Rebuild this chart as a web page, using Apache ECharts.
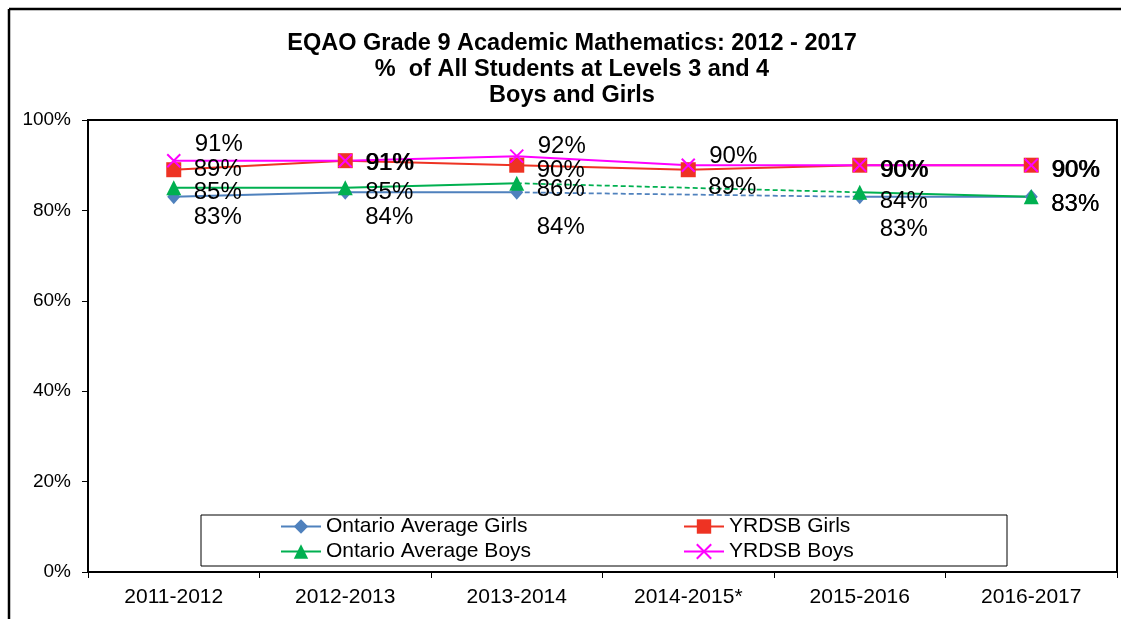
<!DOCTYPE html>
<html><head><meta charset="utf-8">
<script src="https://cdn.jsdelivr.net/npm/echarts@6/dist/echarts.min.js"></script>
<style>html,body{margin:0;padding:0;background:#fff}#c{width:1121px;height:619px}</style>
</head><body><div id="c"></div>
<script>
// ---- data ----
const categories = ['2011-2012', '2012-2013', '2013-2014', '2014-2015*', '2015-2016', '2016-2017'];
const ontarioGirls = [83, 84, 84, null, 83, 83];
const yrdsbGirls   = [89, 91, 90, 89, 90, 90];
const ontarioBoys  = [85, 85, 86, null, 84, 83];
const yrdsbBoys    = [91, 91, 92, 90, 90, 90];
const yTickMin = 0, yTickMax = 100, yTickStep = 20;

// ---- styling (label nudges = manual label placement, vertical px) ----
const seriesStyles = [
  { name: 'Ontario Average Girls', data: ontarioGirls, color: '#4F81BD', symbol: 'diamond', size: [13, 15], nudge: [21, 25, 35, 0, 33, 8] },
  { name: 'YRDSB Girls', data: yrdsbGirls, color: '#EE3323', symbol: 'rect', size: 15, nudge: [0, 3, 5, 18, 5, 5] },
  { name: 'Ontario Average Boys', data: ontarioBoys, color: '#00B050', symbol: 'triangle', size: 15, nudge: [5, 5, 6, 0, 9, 8] },
  { name: 'YRDSB Boys', data: yrdsbBoys, color: '#FF00FF', symbol: 'path://M0,0L10,10M10,0L0,10', size: 13, nudge: [-16, 3, -10, -9, 5, 5] }
];

const FONT = '"Liberation Sans", Arial, sans-serif';

const series = [];
// dashed connectors across missing years
seriesStyles.forEach(s => {
  const n = s.data.length;
  if (!s.data.some(v => v == null)) return;
  const gap = s.data.map((v, i) => {
    if (v == null) return null;
    const prevNull = i > 0 && s.data[i - 1] == null;
    const nextNull = i < n - 1 && s.data[i + 1] == null;
    return (prevNull || nextNull) ? v : null;
  });
  series.push({
    name: s.name + ' (gap)', type: 'line', data: gap, connectNulls: true,
    showSymbol: false, symbol: 'none', silent: true, z: 1,
    lineStyle: { color: s.color, width: 1.75, type: [5, 3] },
    label: { show: false }
  });
});
seriesStyles.forEach(s => {
  const half = (Array.isArray(s.size) ? s.size[0] : s.size) / 2;
  series.push({
    name: s.name, type: 'line', z: 3,
    data: s.data.map((v, i) => v == null ? null : { value: v, label: { offset: [0, s.nudge[i]] } }),
    connectNulls: false,
    symbol: s.symbol, symbolSize: s.size, showAllSymbol: true,
    lineStyle: { color: s.color, width: 2 },
    itemStyle: { color: s.color, borderColor: s.color, borderWidth: s.symbol.startsWith('path') ? 2 : 0 },
    label: {
      show: true, position: 'right', distance: 20 - half,
      formatter: p => p.value + '%',
      color: '#000', fontFamily: FONT, fontSize: 24
    },
    emphasis: { disabled: true }
  });
});

const legendPos = [
  { name: 'Ontario Average Girls', left: 280, top: 516 },
  { name: 'YRDSB Girls', left: 683, top: 516 },
  { name: 'Ontario Average Boys', left: 280, top: 541 },
  { name: 'YRDSB Boys', left: 683, top: 541 }
];

const chart = echarts.init(document.getElementById('c'), null, { renderer: 'canvas' });
chart.setOption({
  backgroundColor: '#fff',
  animation: false,
  title: {
    text: 'EQAO Grade 9 Academic Mathematics: 2012 - 2017\n%  of All Students at Levels 3 and 4\nBoys and Girls',
    left: 567, top: 26, textAlign: 'center',
    textStyle: { fontFamily: FONT, fontSize: 23.5, fontWeight: 'bold', color: '#000', lineHeight: 26 }
  },
  grid: { left: 88, right: 4, top: 120, bottom: 47, show: true, borderColor: '#000', borderWidth: 2, backgroundColor: 'transparent' },
  xAxis: {
    type: 'category', data: categories, boundaryGap: true,
    axisLine: { show: true, lineStyle: { color: '#000', width: 2 } },
    axisTick: { show: true, inside: false, length: 6, lineStyle: { color: '#000', width: 1 } },
    axisLabel: { color: '#000', fontFamily: FONT, fontSize: 21, margin: 15 },
    splitLine: { show: false }
  },
  yAxis: {
    type: 'value', min: yTickMin, max: yTickMax, interval: yTickStep,
    axisLine: { show: true, lineStyle: { color: '#000', width: 2 } },
    axisTick: { show: true, inside: false, length: 6, lineStyle: { color: '#000', width: 1 } },
    axisLabel: { color: '#000', fontFamily: FONT, fontSize: 19, margin: 17, formatter: '{value}%' },
    splitLine: { show: false }
  },
  legend: legendPos.map(l => ({
    data: [l.name], left: l.left, top: l.top, padding: 0, itemGap: 0,
    itemWidth: 40, itemHeight: 18, selectedMode: false,
    textStyle: { color: '#000', fontFamily: FONT, fontSize: 21 }
  })),
  graphic: [
    { type: 'line', shape: { x1: 9, y1: 9, x2: 1121, y2: 9 }, style: { stroke: '#000', lineWidth: 2.5 }, silent: true },
    { type: 'line', shape: { x1: 9, y1: 9, x2: 9, y2: 619 }, style: { stroke: '#000', lineWidth: 2.5 }, silent: true },
    { type: 'rect', shape: { x: 201, y: 515, width: 806, height: 51 }, style: { fill: '#fff', stroke: '#000', lineWidth: 1 }, z: 0, silent: true }
  ],
  series: series
});
</script></body></html>
